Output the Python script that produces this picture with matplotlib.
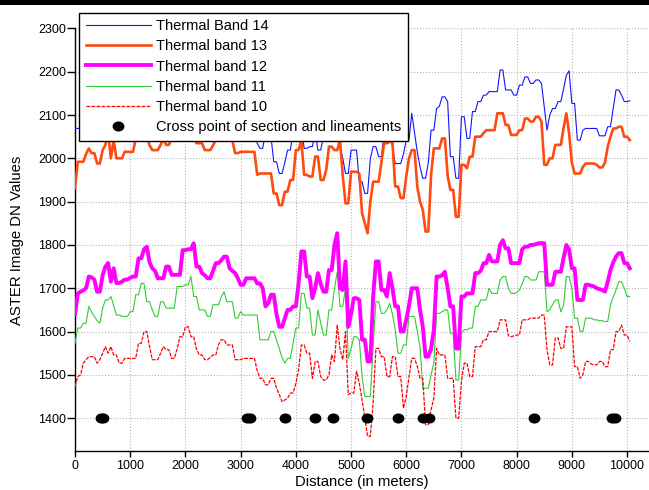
import numpy as np
import matplotlib
matplotlib.use('Agg')
import matplotlib.pyplot as plt
from matplotlib.path import Path
from matplotlib.lines import Line2D

plt.rcParams['font.family'] = ['Liberation Sans', 'DejaVu Sans']

# values sampled every 50 m along the section (0 .. 10050 m)
band14 = [
    2069, 2069, 2070, 2070, 2075, 2085, 2080, 2080, 2065, 2065, 2080, 2090, 2110, 2065, 2100, 2070, 2070, 2070, 2080, 2080,
    2080, 2080, 2100, 2105, 2110, 2115, 2105, 2090, 2080, 2080, 2080, 2090, 2100, 2090, 2090, 2100, 2105, 2100, 2110, 2115,
    2120, 2115, 2125, 2105, 2090, 2090, 2090, 2075, 2075, 2075, 2085, 2095, 2095, 2105, 2110, 2095, 2095, 2095, 2070, 2070,
    2070, 2075, 2075, 2075, 2075, 2070, 2035, 2023, 2023, 2060, 2060, 2050, 1992, 1992, 1965, 1965, 1990, 2019, 2019, 2060,
    2080, 2090, 2080, 2023, 2023, 2027, 2027, 2060, 2019, 2019, 2050, 2070, 2080, 2080, 2080, 2070, 2027, 2000, 1965, 1965,
    2019, 2019, 2019, 1946, 1946, 1919, 1919, 2000, 2027, 2027, 2004, 2004, 2060, 2070, 2060, 2027, 1988, 1988, 1988, 2010,
    2042, 2042, 2104, 2060, 2015, 1980, 1954, 1954, 1990, 2065, 2065, 2115, 2120, 2142, 2142, 2131, 2004, 2004, 1954, 1954,
    2096, 2096, 2046, 2046, 2108, 2108, 2131, 2131, 2146, 2146, 2154, 2154, 2154, 2154, 2204, 2204, 2158, 2158, 2158, 2146,
    2146, 2169, 2169, 2188, 2188, 2173, 2173, 2181, 2181, 2173, 2120, 2065, 2100, 2115, 2115, 2131, 2131, 2160, 2192, 2202,
    2127, 2127, 2042, 2042, 2065, 2069, 2069, 2069, 2069, 2069, 2052, 2052, 2052, 2073, 2073, 2115, 2158, 2158, 2146, 2131,
    2131, 2133]

band13 = [
    1931, 1992, 1992, 1992, 2010, 2023, 2012, 2012, 1988, 1988, 2019, 2031, 2058, 2000, 2042, 2000, 2000, 2000, 2015, 2015,
    2015, 2015, 2045, 2050, 2055, 2060, 2050, 2030, 2019, 2019, 2019, 2031, 2045, 2031, 2031, 2045, 2050, 2045, 2055, 2060,
    2065, 2060, 2070, 2050, 2035, 2035, 2035, 2019, 2019, 2019, 2030, 2042, 2042, 2050, 2055, 2042, 2042, 2042, 2012, 2012,
    2015, 2015, 2015, 2015, 2015, 2015, 1962, 1965, 1965, 1965, 1965, 1965, 1919, 1919, 1892, 1892, 1923, 1923, 1950, 1950,
    2019, 2019, 2042, 1962, 1962, 1958, 1958, 2004, 2004, 1950, 1950, 1973, 2027, 2027, 2019, 2019, 2042, 1960, 1896, 1896,
    1969, 1969, 1969, 1965, 1873, 1850, 1827, 1900, 1946, 1946, 1946, 1990, 2035, 2035, 2038, 2038, 1935, 1935, 1908, 1908,
    1958, 2000, 2019, 2019, 1935, 1900, 1881, 1831, 1831, 1962, 2023, 2023, 2023, 2046, 2046, 1960, 1927, 1927, 1865, 1865,
    1985, 1985, 1977, 2004, 2004, 2050, 2050, 2050, 2058, 2065, 2065, 2065, 2065, 2104, 2104, 2104, 2077, 2077, 2054, 2054,
    2054, 2065, 2065, 2092, 2092, 2085, 2085, 2096, 2096, 2085, 1985, 1985, 2000, 2000, 2031, 2031, 2031, 2070, 2104, 2058,
    1990, 1965, 1965, 1965, 1980, 1988, 1988, 1988, 1988, 1985, 1979, 1979, 1990, 2027, 2050, 2069, 2069, 2073, 2073, 2050,
    2050, 2042]

band12 = [
    1640, 1688, 1692, 1695, 1700, 1727, 1725, 1720, 1692, 1692, 1730, 1750, 1758, 1715, 1746, 1712, 1712, 1715, 1720, 1720,
    1724, 1727, 1727, 1769, 1769, 1790, 1796, 1760, 1746, 1740, 1723, 1723, 1723, 1750, 1750, 1731, 1731, 1731, 1731, 1788,
    1788, 1790, 1790, 1804, 1750, 1750, 1735, 1730, 1723, 1723, 1740, 1758, 1758, 1765, 1773, 1773, 1746, 1740, 1735, 1723,
    1708, 1708, 1723, 1723, 1723, 1723, 1711, 1711, 1700, 1658, 1665, 1685, 1685, 1640, 1611, 1611, 1630, 1650, 1650, 1658,
    1658, 1711, 1785, 1785, 1727, 1727, 1677, 1700, 1735, 1710, 1692, 1692, 1742, 1742, 1800, 1827, 1700, 1696, 1762, 1611,
    1640, 1677, 1677, 1673, 1581, 1581, 1531, 1531, 1680, 1762, 1762, 1696, 1696, 1681, 1735, 1700, 1658, 1658, 1600, 1600,
    1627, 1660, 1700, 1700, 1700, 1650, 1611, 1542, 1542, 1560, 1604, 1727, 1727, 1730, 1738, 1700, 1658, 1658, 1561, 1561,
    1681, 1681, 1688, 1688, 1688, 1735, 1735, 1740, 1758, 1758, 1777, 1762, 1762, 1762, 1800, 1811, 1792, 1792, 1758, 1758,
    1758, 1758, 1790, 1796, 1796, 1800, 1800, 1802, 1804, 1804, 1804, 1708, 1708, 1708, 1738, 1738, 1738, 1770, 1800, 1790,
    1746, 1746, 1673, 1673, 1673, 1708, 1708, 1706, 1704, 1700, 1698, 1696, 1692, 1715, 1742, 1760, 1773, 1781, 1781, 1758,
    1758, 1746]

band11 = [
    1573, 1608, 1608, 1619, 1619, 1658, 1645, 1635, 1625, 1619, 1654, 1673, 1673, 1681, 1660, 1638, 1638, 1635, 1635, 1635,
    1646, 1646, 1685, 1685, 1711, 1711, 1669, 1669, 1650, 1635, 1635, 1669, 1669, 1654, 1654, 1654, 1654, 1704, 1704, 1704,
    1708, 1708, 1727, 1681, 1681, 1650, 1650, 1650, 1635, 1635, 1662, 1662, 1662, 1680, 1692, 1669, 1669, 1669, 1631, 1631,
    1646, 1638, 1638, 1638, 1638, 1638, 1638, 1581, 1581, 1581, 1581, 1600, 1600, 1580, 1561, 1540, 1527, 1538, 1538, 1573,
    1608, 1608, 1688, 1688, 1654, 1654, 1592, 1592, 1650, 1620, 1592, 1592, 1650, 1650, 1700, 1738, 1658, 1658, 1700, 1538,
    1560, 1588, 1588, 1581, 1496, 1450, 1450, 1450, 1565, 1669, 1669, 1642, 1642, 1650, 1665, 1640, 1604, 1550, 1550, 1569,
    1569, 1635, 1635, 1635, 1600, 1565, 1469, 1469, 1469, 1500, 1527, 1642, 1642, 1646, 1650, 1650, 1596, 1596, 1488, 1488,
    1596, 1604, 1604, 1608, 1608, 1658, 1658, 1673, 1673, 1673, 1700, 1688, 1688, 1688, 1719, 1727, 1727, 1700, 1688, 1688,
    1690, 1696, 1710, 1727, 1727, 1719, 1719, 1719, 1738, 1738, 1738, 1646, 1650, 1662, 1673, 1673, 1646, 1660, 1727, 1727,
    1700, 1631, 1631, 1600, 1600, 1631, 1631, 1631, 1627, 1627, 1625, 1625, 1623, 1623, 1662, 1680, 1696, 1715, 1715, 1700,
    1681, 1681]

band10 = [
    1473, 1496, 1500, 1527, 1535, 1542, 1542, 1542, 1527, 1535, 1550, 1565, 1550, 1565, 1546, 1546, 1527, 1527, 1538, 1538,
    1538, 1538, 1538, 1573, 1573, 1600, 1600, 1565, 1535, 1535, 1535, 1550, 1565, 1558, 1558, 1538, 1538, 1560, 1588, 1588,
    1611, 1611, 1588, 1588, 1560, 1546, 1546, 1535, 1535, 1540, 1546, 1546, 1570, 1581, 1581, 1569, 1569, 1569, 1535, 1535,
    1535, 1538, 1538, 1538, 1538, 1538, 1510, 1492, 1492, 1477, 1477, 1492, 1492, 1469, 1455, 1438, 1442, 1446, 1458, 1458,
    1480, 1512, 1569, 1569, 1550, 1550, 1492, 1531, 1531, 1496, 1488, 1488, 1500, 1546, 1531, 1615, 1560, 1535, 1600, 1454,
    1458, 1458, 1508, 1480, 1442, 1400, 1358, 1358, 1435, 1561, 1561, 1542, 1542, 1496, 1496, 1542, 1542, 1496, 1496, 1423,
    1450, 1495, 1538, 1538, 1520, 1492, 1492, 1385, 1385, 1420, 1446, 1561, 1546, 1546, 1546, 1492, 1492, 1492, 1400, 1400,
    1485, 1527, 1527, 1496, 1496, 1565, 1565, 1565, 1581, 1581, 1600, 1600, 1600, 1600, 1627, 1627, 1627, 1590, 1588, 1590,
    1592, 1592, 1627, 1627, 1627, 1631, 1631, 1631, 1631, 1638, 1638, 1558, 1523, 1523, 1585, 1585, 1561, 1561, 1611, 1611,
    1611, 1519, 1519, 1492, 1500, 1531, 1531, 1525, 1523, 1523, 1531, 1531, 1519, 1519, 1558, 1558, 1600, 1600, 1615, 1592,
    1592, 1577]

# cross points of section and lineaments (all plotted at DN 1400)
cross_x = [470, 515, 3110, 3170, 3812, 4354, 4675, 5286, 5855, 6300, 6415, 8322, 9725, 9790]
cross_y = [1400] * len(cross_x)

labels = ['Thermal Band 14', 'Thermal band 13', 'Thermal band 12',
          'Thermal band 11', 'Thermal band 10', 'Cross point of section and lineaments']

dist = np.arange(len(band12)) * 50

fig = plt.figure(figsize=(6.49, 4.90), dpi=100)
ax = fig.add_axes([0.1156, 0.0786, 0.8829, 0.8634])

l14, = ax.plot(dist[:len(band14)], band14, color='#1414ff', lw=0.8, zorder=3)
l13, = ax.plot(dist[:len(band13)], band13, color='#ff4a10', lw=1.9, zorder=4)
l11, = ax.plot(dist[:len(band11)], band11, color='#33cc33', lw=0.8, zorder=3)
l12, = ax.plot(dist[:len(band12)], band12, color='#ff00ff', lw=2.8, zorder=4)
l10, = ax.plot(dist[:len(band10)], band10, color='#ff0000', lw=0.9, ls=(0, (3, 1)), zorder=3)

# slightly flattened dot marker
circ = Path.unit_circle()
ellipse = Path(circ.vertices * np.array([1.2, 1.0]), circ.codes)
dots, = ax.plot(cross_x, cross_y, ls='none', marker=ellipse, ms=7.5, color='black', zorder=5)

ax.set_xlim(0, 10380)
ax.set_ylim(1323, 2300)
ax.set_xticks(np.arange(0, 10001, 1000))
ax.set_yticks(np.arange(1400, 2301, 100))
ax.grid(True, ls=':', color='#b5b5b5', lw=0.8)
ax.set_axisbelow(True)
for s in ['top', 'right']:
    ax.spines[s].set_visible(False)
for s in ['left', 'bottom']:
    ax.spines[s].set_linewidth(1.0)
ax.tick_params(direction='out', width=1, labelsize=9)
ax.tick_params(axis='y', length=5.5, pad=1)
ax.tick_params(axis='x', length=4, pad=2)

ax.set_xlabel('Distance (in meters)', fontsize=10.7, labelpad=2)
ax.set_ylabel('ASTER Image DN Values', fontsize=10.7, labelpad=10)

leg = ax.legend([l14, l13, l12, l11, l10, dots], labels, loc='upper left',
                bbox_to_anchor=(0.007, 1.037), borderaxespad=0, fontsize=10.5,
                handlelength=4.5, handletextpad=0.35, labelspacing=0.42,
                borderpad=0.45, numpoints=1, fancybox=False, framealpha=1)
leg.get_frame().set_edgecolor('black')
leg.get_frame().set_linewidth(1.0)
leg.set_zorder(10)

# heavy rule along the top of the figure
fig.add_artist(Line2D([0, 1], [1 - 2.5 / 490] * 2, color='black', lw=3.6,
                      transform=fig.transFigure))

fig.savefig('out.png', dpi=100)
